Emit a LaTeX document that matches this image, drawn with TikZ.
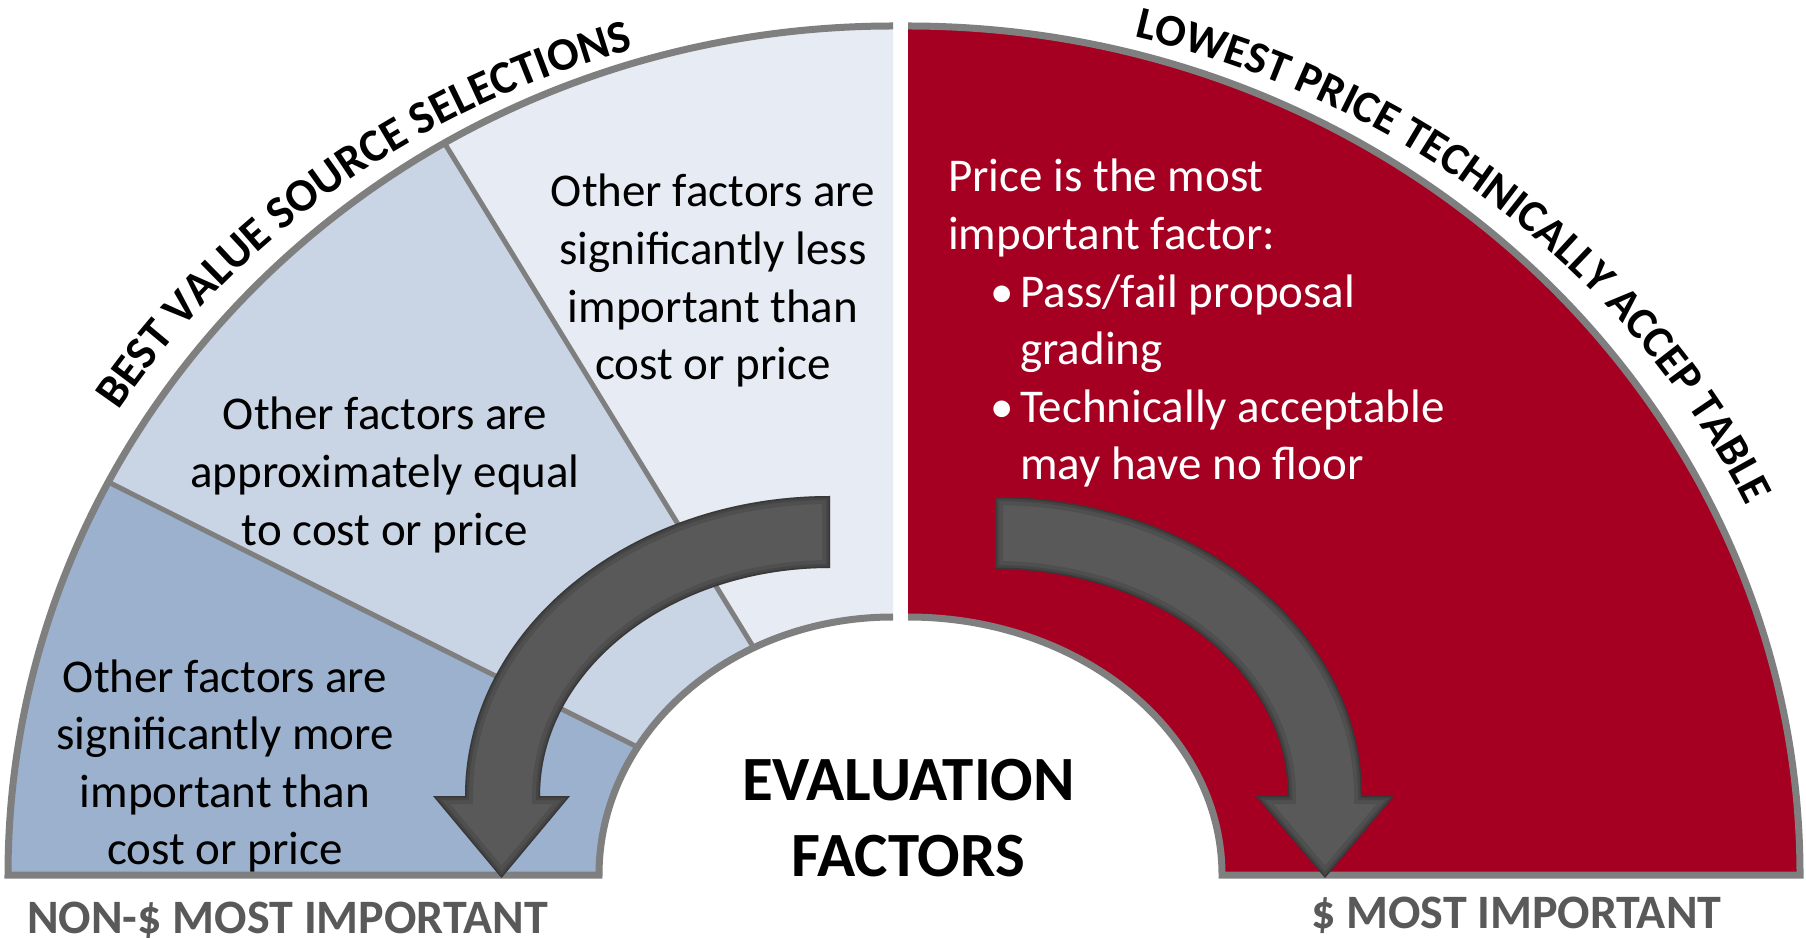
\documentclass[tikz,border=0pt]{standalone}
\usepackage{fontspec}
\setmainfont{Carlito}
\usetikzlibrary{decorations.text}

\definecolor{secA}{HTML}{E7ECF4}
\definecolor{secB}{HTML}{C9D5E5}
\definecolor{secC}{HTML}{9BB1CD}
\definecolor{redfill}{HTML}{A50021}
\definecolor{rim}{HTML}{7F7F7F}
\definecolor{arrowfill}{HTML}{595959}
\definecolor{labelgray}{HTML}{595959}

\newcommand\bodyfont{\fontsize{47}{57.6}\selectfont}
\newcommand\arcfont{\fontsize{46.5}{50}\selectfont\bfseries}
\newcommand\arcfontb{\fontsize{45.3}{50}\selectfont\bfseries}
\newcommand\bul{\makebox[72pt][l]{\hspace{42pt}\textbullet}}
\newcommand\bulskip{\hspace*{72pt}}

\begin{document}
\begin{tikzpicture}[x=1pt,y=1pt,
  rimline/.style={draw=rim, line width=7pt},
  divider/.style={draw=rim, line width=5pt},
  body/.style={font=\bodyfont, inner sep=0pt, align=center, anchor=base},
  biglabel/.style={font=\fontsize{48}{50}\selectfont\bfseries, text=labelgray, inner sep=0pt, anchor=base west},
  shade1/.style={draw=black, opacity=0.10, line width=16pt},
  shade2/.style={draw=black, opacity=0.12, line width=8pt},
  shade3/.style={draw=black, opacity=0.18, line width=3pt}]
\useasboundingbox (0,0) rectangle (1806,937);
\fill[white] (0,0) rectangle (1806,937);

\coordinate (L) at (893,62);
\coordinate (R) at (908,62);

% ---- left block: three sectors
\begin{scope}
  \clip (893,911) arc[start angle=90,end angle=180,x radius=885,y radius=849]
        -- (599,62) arc[start angle=180,end angle=90,x radius=294,y radius=258] -- cycle;
  \fill[secA] (L) -- +(90:1500) -- +(121.5:1500) -- cycle;
  \fill[secB] (L) -- +(121.5:1500) -- +(153.4:1500) -- cycle;
  \fill[secC] (L) -- +(153.4:1500) -- +(180:1500) -- cycle;
  \draw[divider] (L) -- +(121.5:1500);
  \draw[divider] (L) -- +(153.4:1500);
\end{scope}
\draw[rimline] (893,911) arc[start angle=90,end angle=180,x radius=885,y radius=849]
      -- (599,62) arc[start angle=180,end angle=90,x radius=294,y radius=258];

% ---- right block
\fill[redfill] (908,911) arc[start angle=90,end angle=0,x radius=892,y radius=849]
      -- (1222,62) arc[start angle=0,end angle=90,x radius=314,y radius=258] -- cycle;
\draw[rimline] (908,911) arc[start angle=90,end angle=0,x radius=892,y radius=849]
      -- (1222,62) arc[start angle=0,end angle=90,x radius=314,y radius=258];

% ---- curved arrows
\path[save path=\leftarrow]
  (830,441) arc[start angle=90,end angle=180,x radius=365,y radius=300]
  -- (433,141) -- (501.5,59) -- (570,141) -- (540,141)
  arc[start angle=180,end angle=90,x radius=290,y radius=228] -- cycle;
\path[save path=\rightarrow]
  (995,440) arc[start angle=90,end angle=0,x radius=367,y radius=299]
  -- (1394,141) -- (1325,59) -- (1256,141) -- (1288,141)
  arc[start angle=0,end angle=90,x radius=293,y radius=227] -- cycle;

\fill[arrowfill, use path=\leftarrow];
\begin{scope}
  \clip[use path=\leftarrow];
  \path[shade1, use path=\leftarrow];
  \path[shade2, use path=\leftarrow];
  \path[shade3, use path=\leftarrow];
\end{scope}
\fill[arrowfill, use path=\rightarrow];
\begin{scope}
  \clip[use path=\rightarrow];
  \path[shade1, use path=\rightarrow];
  \path[shade2, use path=\rightarrow];
  \path[shade3, use path=\rightarrow];
\end{scope}

% ---- texts in the sectors (node base = baseline of the last line)
\node[body] (lessnote) at (713,557.2) {Other factors are\\significantly less\\important than\\cost or price};
\node[body] (equalnote) at (385,391.8) {Other factors are\\approximately equal\\to cost or price};
\node[body] (morenote) at (225,72.2) {Other factors are\\significantly more\\important than\\cost or price};
\node[body, text=white, align=left, anchor=base west] (pricenote) at (948,457)
  {Price is the most\\important factor:\\\bul Pass/fail proposal\\\bulskip grading\\\bul Technically acceptable\\\bulskip may have no floor};

\node[font=\fontsize{63}{76}\selectfont\bfseries, align=center, anchor=base, inner sep=0pt] (evalnote) at (908.5,61) {EVALUATION\\FACTORS};

\node[biglabel] (nondollar) at (27,4) {NON-\$ MOST IMPORTANT};
\node[biglabel] (dollar) at (1311,9) {\$ MOST IMPORTANT};

% ---- titles along the outer rims
\path[decorate, decoration={text along path, text align=center,
    text={|\arcfont|BEST VALUE SOURCE SELECTIONS}}]
  (L) ++(160:920 and 861) arc[start angle=160,end angle=94.4,x radius=920,y radius=861];
\path[decorate, decoration={text along path, text align=center,
    text={|\arcfontb|LOWEST PRICE TECHNICALLY ACCEP TABLE}}]
  (R) ++(86:928 and 864) arc[start angle=86,end angle=14.6,x radius=928,y radius=864];
\end{tikzpicture}
\end{document}
